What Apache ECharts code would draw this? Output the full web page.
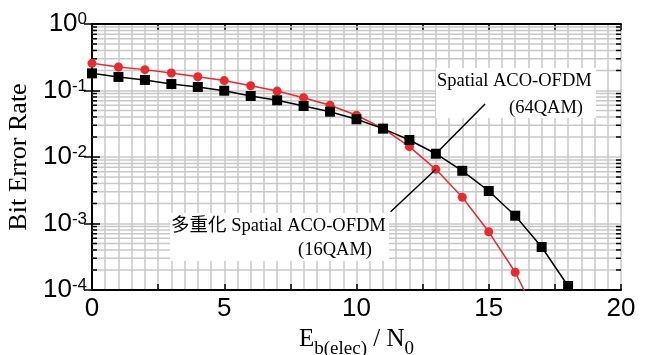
<!DOCTYPE html>
<html>
<head>
<meta charset="utf-8">
<script src="https://cdn.jsdelivr.net/npm/echarts@6/dist/echarts.min.js"></script>
<style>
  html, body { margin: 0; padding: 0; background: #fff; }
  #chart { width: 650px; height: 355px; }
</style>
</head>
<body>
<div id="chart"></div>
<script>
// Eb(elec)/N0 in dB
const snr = [0, 1, 2, 3, 4, 5, 6, 7, 8, 9, 10, 11, 12, 13, 14, 15, 16, 17, 18];

// Spatial ACO-OFDM (64QAM) - black squares
const berSpatial64 = [0.181, 0.160, 0.144, 0.125, 0.113, 0.0993, 0.0827, 0.0713, 0.0585, 0.048,
  0.0369, 0.0267, 0.018, 0.0112, 0.0062, 0.00308, 0.00131, 4.43e-4, 1.15e-4];

// 多重化 Spatial ACO-OFDM (16QAM) - red circles
const berMux16 = [0.256, 0.226, 0.206, 0.183, 0.161, 0.141, 0.118, 0.098, 0.078, 0.060,
  0.0424, 0.027, 0.0143, 0.00653, 0.00248, 7.5e-4, 1.85e-4, 2.9e-5];

// log grid: decades and the mantissas of the minor lines
const decades = [1e-4, 1e-3, 1e-2, 1e-1];
const minorMantissas = [2, 3, 4, 5, 6, 7, 8, 9];

const minorValues = [];
decades.forEach(d => minorMantissas.forEach(m => minorValues.push([0, m * d])));

const serif = '"Liberation Serif", "Times New Roman", "Noto Sans CJK JP", serif';
const sans = '"Liberation Sans", Arial, sans-serif';
const gridColor = '#c8c8c8';

const chart = echarts.init(document.getElementById('chart'));

chart.setOption({
  animation: false,
  backgroundColor: '#fff',
  grid: { left: 92, right: 29, top: 24, bottom: 65, containLabel: false, outerBoundsMode: 'none' },
  xAxis: [
    {
      type: 'value',
      min: 0,
      max: 20,
      interval: 2.5,
      name: '{a|E}{b|b(elec)}{a| / N}{b|0}',
      nameLocation: 'middle',
      nameGap: 35,
      nameTextStyle: {
        rich: {
          a: { fontFamily: serif, fontSize: 25, lineHeight: 28, verticalAlign: 'top', color: '#000' },
          b: { fontFamily: serif, fontSize: 19, lineHeight: 19, padding: [13, 0, 0, 0], verticalAlign: 'top', color: '#000' }
        }
      },
      axisLine: { show: true, lineStyle: { color: '#000', width: 2 } },
      axisTick: { show: true, inside: true, length: 6, lineStyle: { color: '#000', width: 1.5 } },
      axisLabel: {
        margin: 6,
        fontFamily: sans,
        fontSize: 26,
        color: '#000',
        formatter: v => (v % 5 === 0 ? String(v) : '')
      },
      splitLine: { show: true, lineStyle: { color: gridColor, width: 1.5 } },
      minorTick: { show: false, splitNumber: 5 },
      minorSplitLine: { show: true, lineStyle: { color: gridColor, width: 1.5 } }
    },
    {
      type: 'value',
      position: 'top',
      min: 0,
      max: 20,
      interval: 2.5,
      axisLine: { show: true, lineStyle: { color: '#000', width: 2 } },
      axisTick: { show: true, inside: true, length: 6, lineStyle: { color: '#000', width: 1.5 } },
      axisLabel: { show: false },
      splitLine: { show: false }
    }
  ],
  yAxis: [
    {
      type: 'log',
      logBase: 10,
      min: 1e-4,
      max: 1,
      name: 'Bit Error Rate',
      nameLocation: 'middle',
      nameGap: 55,
      nameTextStyle: { fontFamily: serif, fontSize: 26, color: '#000' },
      axisLine: { show: true, lineStyle: { color: '#000', width: 2 } },
      axisTick: { show: true, inside: true, length: 8, lineStyle: { color: '#000', width: 1.5 } },
      axisLabel: {
        margin: 5,
        formatter: v => '{m|10}{e|' + Math.round(Math.log10(v)) + '}',
        rich: {
          m: { fontFamily: sans, fontSize: 26, lineHeight: 26, verticalAlign: 'bottom', color: '#000' },
          e: { fontFamily: sans, fontSize: 17, lineHeight: 17, padding: [0, 0, 17, 0], verticalAlign: 'top', color: '#000' }
        }
      },
      splitLine: { show: true, lineStyle: { color: gridColor, width: 1.5 } }
    },
    {
      type: 'log',
      logBase: 10,
      position: 'right',
      min: 1e-4,
      max: 1,
      axisLine: { show: true, lineStyle: { color: '#000', width: 2 } },
      axisTick: { show: true, inside: true, length: 8, lineStyle: { color: '#000', width: 1.5 } },
      axisLabel: { show: false },
      splitLine: { show: false }
    }
  ],
  series: [
    {
      // minor log grid lines and their ticks on both sides
      type: 'custom',
      silent: true,
      z: 1,
      data: minorValues,
      renderItem: (params, api) => {
        const cs = params.coordSys;
        const y = api.coord([0, api.value(1)])[1];
        return {
          type: 'group',
          children: [
            { type: 'line', shape: { x1: cs.x, y1: y, x2: cs.x + cs.width, y2: y },
              style: { stroke: gridColor, lineWidth: 1.5 } },
            { type: 'line', shape: { x1: cs.x, y1: y, x2: cs.x + 5, y2: y },
              style: { stroke: '#000', lineWidth: 1.5 } },
            { type: 'line', shape: { x1: cs.x + cs.width - 5, y1: y, x2: cs.x + cs.width, y2: y },
              style: { stroke: '#000', lineWidth: 1.5 } }
          ]
        };
      }
    },
    {
      name: 'Spatial ACO-OFDM (64QAM)',
      type: 'line',
      z: 4,
      data: snr.map((x, i) => [x, berSpatial64[i]]),
      symbol: 'rect',
      symbolSize: 10,
      itemStyle: { color: '#000' },
      lineStyle: { color: '#000', width: 1.5 },
      markLine: {
        silent: true,
        symbol: ['none', 'none'],
        label: { show: false },
        lineStyle: { color: '#000', width: 1.5, type: 'solid' },
        data: [[{ coord: [13, berSpatial64[13]] }, { coord: [14.86, 0.0627] }]]
      }
    },
    {
      name: '多重化 Spatial ACO-OFDM (16QAM)',
      type: 'line',
      z: 3,
      data: snr.slice(0, berMux16.length).map((x, i) => [x, berMux16[i]]),
      symbol: 'circle',
      symbolSize: 9,
      itemStyle: { color: '#ea2a2d' },
      lineStyle: { color: '#ea2a2d', width: 1.5 },
      clip: true,
      markLine: {
        silent: true,
        symbol: ['none', 'none'],
        label: { show: false },
        lineStyle: { color: '#000', width: 1.5, type: 'solid' },
        data: [[{ coord: [13, berMux16[13]] }, { coord: [11.29, 0.0015] }]]
      }
    }
  ],
  graphic: [
    { type: 'rect', z: 2, shape: { x: 436, y: 68, width: 160, height: 50 }, style: { fill: '#fff' } },
    { type: 'text', z: 5, x: 437, y: 72,
      style: { text: 'Spatial ACO-OFDM', fontFamily: serif, fontSize: 18.5, fill: '#000', verticalAlign: 'top' } },
    { type: 'text', z: 5, x: 509, y: 99,
      style: { text: '(64QAM)', fontFamily: serif, fontSize: 18.5, fill: '#000', verticalAlign: 'top' } },
    { type: 'rect', z: 2, shape: { x: 170, y: 213, width: 219, height: 48 }, style: { fill: '#fff' } },
    { type: 'text', z: 5, x: 171, y: 217,
      style: { text: '多重化 Spatial ACO-OFDM', fontFamily: serif, fontSize: 18.5, fill: '#000', verticalAlign: 'top' } },
    { type: 'text', z: 5, x: 298, y: 241,
      style: { text: '(16QAM)', fontFamily: serif, fontSize: 18.5, fill: '#000', verticalAlign: 'top' } }
  ]
});
</script>
</body>
</html>
